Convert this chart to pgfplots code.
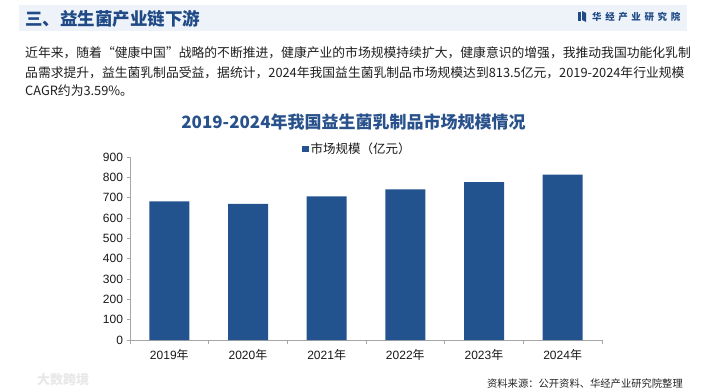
\documentclass[border=0pt]{standalone}
\usepackage{pgfplots}
\pgfplotsset{compat=1.18}
\usepackage{fontspec}
\setmainfont{Liberation Sans}
\newfontfamily\cjk{Noto Sans CJK SC}
\definecolor{barblue}{HTML}{22538F}
\definecolor{titleblue}{HTML}{29528C}
\definecolor{headblue}{HTML}{1F4A86}
\definecolor{bandbg}{HTML}{EEF3FA}
\definecolor{axgray}{HTML}{A6A6A6}
\begin{document}
\begin{tikzpicture}
\useasboundingbox (0,0) rectangle (705bp,-392bp);
\fill[white] (0,0) rectangle (705bp,-392bp);
% header band
\fill[bandbg] (19bp,-5bp) rectangle (687bp,-31bp);
\node[anchor=west, inner sep=0pt, text=headblue, font=\cjk\bfseries\fontsize{17.5bp}{19bp}\selectfont] at (25bp,-19bp) {三、益生菌产业链下游};
\fill[headblue] (578bp,-12bp) rectangle (580.5bp,-21bp);
\fill[headblue] (582bp,-11bp) -- (586bp,-13bp) -- (586bp,-22bp) -- (582bp,-20bp) -- cycle;
\node[anchor=west, inner sep=0pt, text=headblue, font=\cjk\bfseries\fontsize{9.5bp}{11bp}\selectfont] at (592bp,-16.5bp) {华\hspace{3.6bp}经\hspace{3.6bp}产\hspace{3.6bp}业\hspace{3.6bp}研\hspace{3.6bp}究\hspace{3.6bp}院};
% paragraph
\begin{scope}[every node/.style={anchor=west, inner sep=0pt, text=black!88, font=\cjk\fontsize{12.8bp}{15bp}\selectfont}]
\node at (25bp,-52.5bp) {近年来，随着“健康中国”战略的不断推进，健康产业的市场规模持续扩大，健康意识的增强，我推动我国功能化乳制};
\node at (25bp,-72.3bp) {品需求提升，益生菌乳制品受益，据统计，2024年我国益生菌乳制品市场规模达到813.5亿元，2019-2024年行业规模};
\node at (25bp,-90.5bp) {CAGR约为3.59\%。};
\end{scope}
% chart title
\node[inner sep=0pt, text=titleblue, font=\cjk\bfseries\fontsize{17bp}{20bp}\selectfont] at (353.5bp,-121.5bp) {2019-2024年我国益生菌乳制品市场规模情况};
% faint logo bottom-left
\node[anchor=west, inner sep=0pt, text=black!9, font=\cjk\bfseries\fontsize{13bp}{15bp}\selectfont] at (37bp,-380bp) {大数跨境};
% source
\node[anchor=east, inner sep=0pt, text=black!85, font=\cjk\fontsize{10.3bp}{12bp}\selectfont] at (683bp,-384bp) {资料来源：公开资料、华经产业研究院整理};
\begin{axis}[
  at={(130bp,-340bp)}, anchor=south west,
  width=472bp, height=183bp, scale only axis,
  xmin=-0.5, xmax=5.5, ymin=0, ymax=900,
  ytick={0,100,...,900},
  xtick={0,...,5},
  xticklabels={2019{\cjk 年},2020{\cjk 年},2021{\cjk 年},2022{\cjk 年},2023{\cjk 年},2024{\cjk 年}},
  minor xtick={-0.5,0.5,...,5.5},
  axis x line*=bottom, axis y line*=left,
  axis line style={axgray, line width=0.8pt, -},
  tick style={axgray, line width=0.8pt},
  major tick length=3.5bp, minor tick length=4bp,
  major x tick style={draw=none},
  tick align=outside,
  ticklabel style={font=\fontsize{12bp}{14bp}\selectfont, text=black!90},
  xticklabel style={yshift=-2bp},
  /pgf/number format/assume math mode=true,
  ybar, bar width=40bp,
  legend style={at={(0.364,1.044)}, anchor=west, draw=none, fill=none, inner sep=0pt,
    font=\cjk\fontsize{12.5bp}{14bp}\selectfont, text=black!90},
  legend image code/.code={\fill[barblue] (0bp,-3.3bp) rectangle (6.6bp,3.3bp);},
]
\addplot[fill=barblue, draw=none] coordinates {(0,682) (1,670) (2,707) (3,741) (4,776) (5,813.5)};
\addlegendentry{市场规模（亿元）}
\end{axis}
\end{tikzpicture}
\end{document}
